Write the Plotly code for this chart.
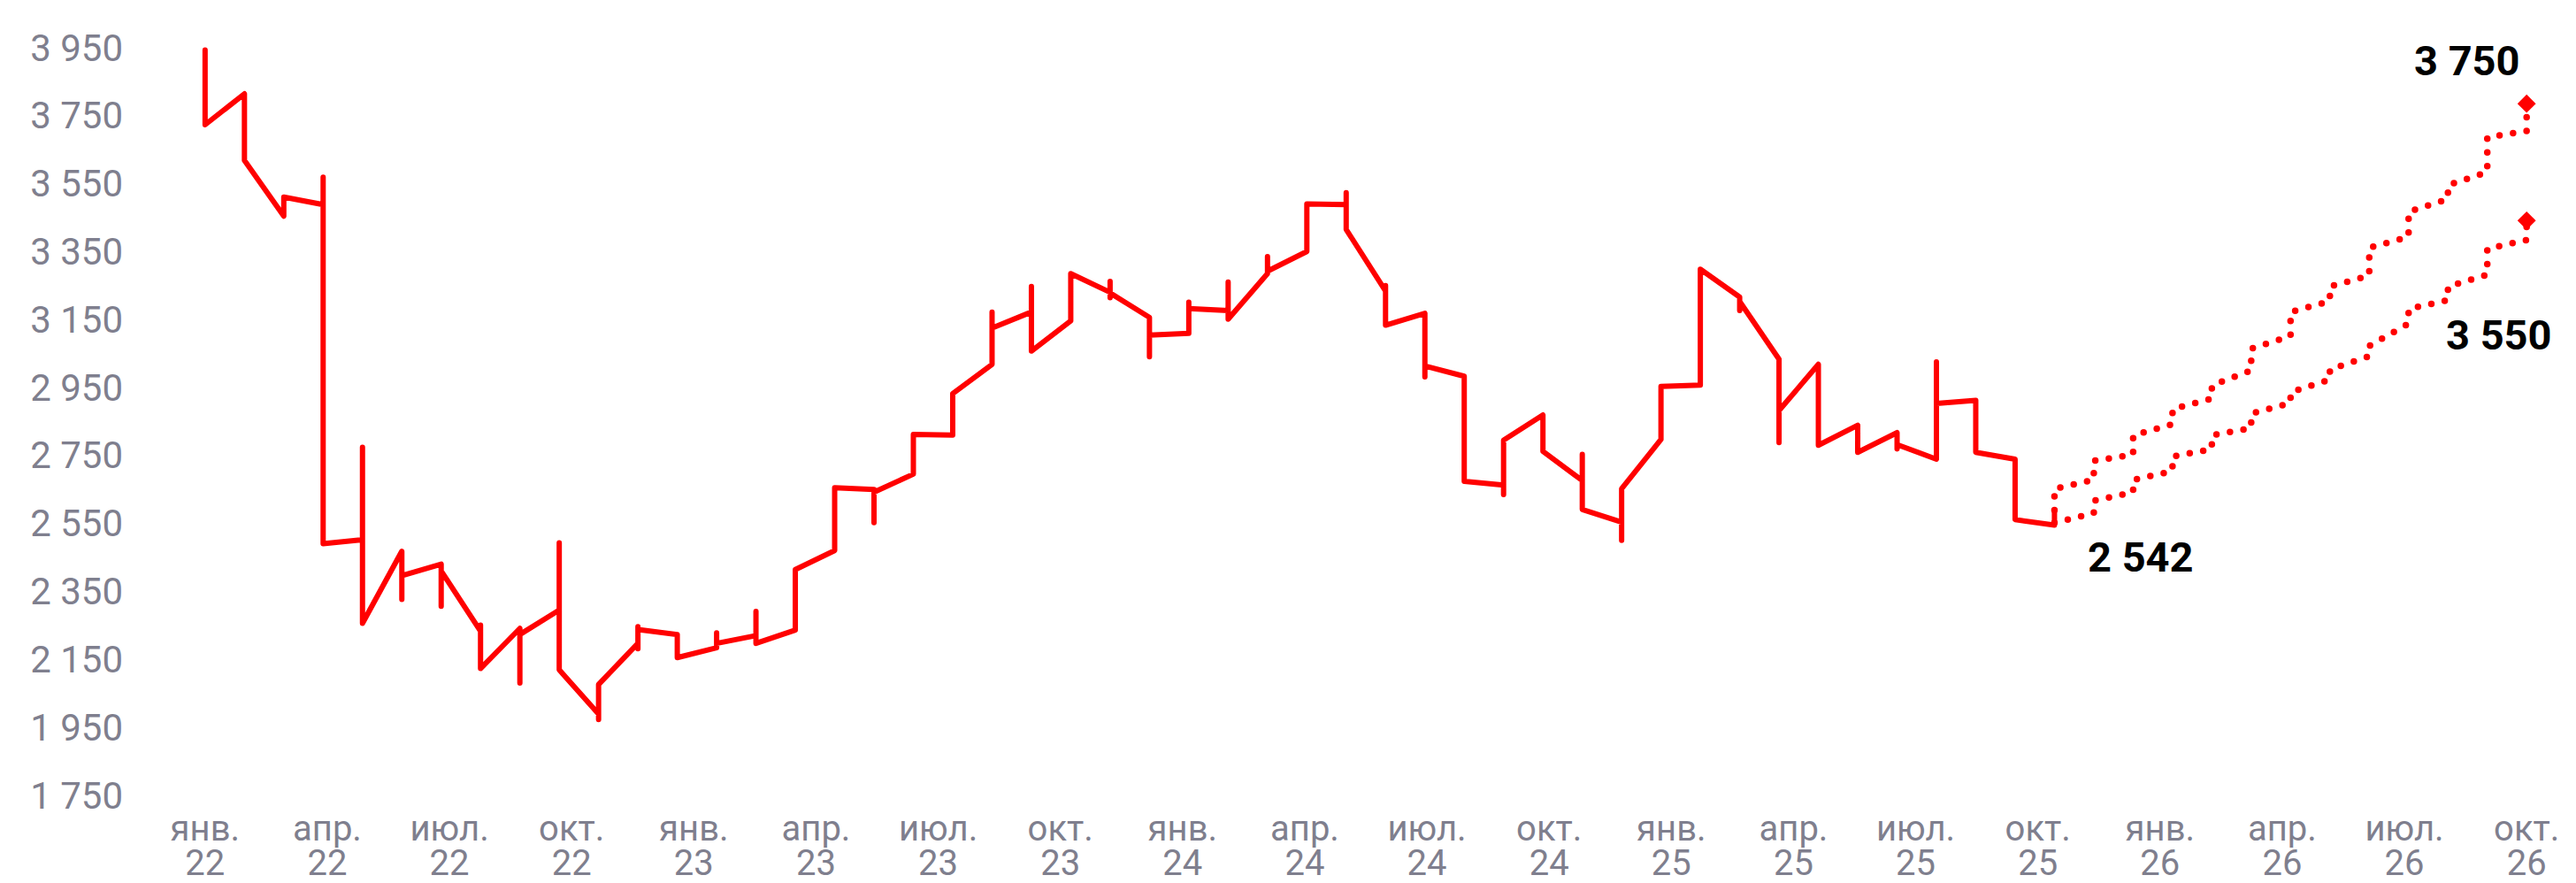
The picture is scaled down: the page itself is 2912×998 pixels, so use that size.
import numpy as np
import plotly.graph_objects as go

# ---- data ----
tick_months = ["янв.", "апр.", "июл.", "окт."]
tick_years = ["22", "23", "24", "25", "26"]

# actual series: one list per month (Jan 22 .. Dec 25), values in drawing order
actual = [
    [3943, 3723], [3814, 3618], [3454, 3510], [3488, 3569, 2490],
    [2502, 2774, 2256], [2468, 2326, 2396], [2430, 2306, 2410], [2233, 2251, 2123],
    [2241, 2080, 2223], [2295, 2493, 2119], [1989, 1973, 2076], [2197, 2181, 2246, 2238],
    [2223, 2155], [2184, 2228, 2197], [2220, 2291, 2197], [2236, 2414],
    [2470, 2655], [2650, 2552, 2642], [2695, 2812], [2810, 2932],
    [3018, 3172, 3125], [3172, 3247, 3057], [3146, 3285], [3230, 3262, 3214, 3228],
    [3156, 3040, 3104], [3109, 3201, 3182], [3176, 3260, 3151], [3285, 3335, 3292],
    [3350, 3490], [3488, 3523, 3415], [3234, 3250, 3133], [3168, 2981, 3013],
    [2983, 2674], [2663, 2635, 2795], [2869, 2762], [2676, 2753, 2591],
    [2554, 2500, 2652], [2797, 2953], [2957, 3298], [3216, 3176, 3203],
    [3033, 2788, 2882], [3018, 2780], [2839, 2759], [2817, 2769, 2782],
    [2739, 3025, 2903], [2912, 2759], [2739, 2561], [2545, 2589],
]
# forecasts: one list per month (Dec 25 .. Dec 26)
forecast_high = [
    [2589, 2652], [2678, 2734], [2752, 2809], [2842, 2886], [2917, 2956],
    [3000, 3064], [3101, 3172], [3204, 3247], [3279, 3361], [3393, 3467],
    [3504, 3545], [3584, 3686], [3705, 3785],
]
forecast_low = [
    [2552], [2580, 2617], [2641, 2678], [2704, 2747], [2768, 2809],
    [2830, 2873], [2904, 2936], [2973, 3003], [3042, 3072], [3138, 3181],
    [3207, 3247], [3282, 3358], [3384, 3441],
]
label_high = "3 750"
label_low = "3 550"
label_last = "2 542"
y_ticks = [1750, 1950, 2150, 2350, 2550, 2750, 2950, 3150, 3350, 3550, 3750, 3950]


def flatten(groups, start):
    xs, ys = [], []
    for i, vals in enumerate(groups):
        for v in vals:
            xs.append(start + i)
            ys.append(v)
    return xs, ys


ax, ay = flatten(actual, 0)
f_start = len(actual) - 1
hx, hy = flatten(forecast_high, f_start)
lx, ly = flatten(forecast_low, f_start)
n_last = f_start + len(forecast_high) - 1

RED = "#ff0000"
GREY = "#7f7f8e"
FONT = "Roboto"

fig = go.Figure()
fig.add_trace(go.Scatter(x=ax, y=ay, mode="lines",
                         line=dict(color=RED, width=6), showlegend=False, hoverinfo="skip"))
for fx, fy in ((hx, hy), (lx, ly)):
    fig.add_trace(go.Scatter(x=fx, y=fy, mode="lines",
                             line=dict(color=RED, width=7.5, dash="0px,15.5px"),
                             showlegend=False, hoverinfo="skip"))
    fig.add_trace(go.Scatter(x=[fx[-1]], y=[fy[-1]], mode="markers",
                             marker=dict(symbol="diamond", size=16, color=RED),
                             showlegend=False, hoverinfo="skip"))

tickvals = np.linspace(0, n_last, 20)
month_text = [m for y in tick_years for m in tick_months]
year_text = [y for y in tick_years for m in tick_months]

xr = [-1.84, 59.58]
fig.update_layout(
    width=2912, height=998,
    margin=dict(l=150, r=30, t=20, b=98, autoexpand=False),
    paper_bgcolor="white", plot_bgcolor="white",
    font=dict(family=FONT, color=GREY, size=40),
    xaxis=dict(range=xr, tickvals=tickvals, ticktext=month_text, showgrid=False,
               zeroline=False, showline=False, ticks="", ticklabelstandoff=9,
               automargin=False,
               tickfont=dict(size=40, color=GREY, family=FONT)),
    xaxis2=dict(range=xr, overlaying="x", side="bottom", anchor="y",
                tickvals=tickvals, ticktext=year_text, showgrid=False,
                zeroline=False, showline=False, ticks="", ticklabelstandoff=48,
                automargin=False,
                tickfont=dict(size=40, color=GREY, family=FONT)),
    yaxis=dict(range=[1747, 4038], tickvals=y_ticks,
               ticktext=[f"{v:,}".replace(",", " ") for v in y_ticks],
               showgrid=False, zeroline=False, showline=False, ticks="",
               ticklabelstandoff=10, automargin=False,
               tickfont=dict(size=42, color=GREY, family=FONT)),
)
# invisible trace to keep the year axis alive
fig.add_trace(go.Scatter(x=[0], y=[None], xaxis="x2", mode="lines", showlegend=False,
                         hoverinfo="skip"))

ann_font = dict(family=FONT, size=47, color="black")
fig.add_annotation(x=57.5, y=3911, xref="x", yref="y", text=f"<b>{label_high}</b>",
                   showarrow=False, font=ann_font)
fig.add_annotation(x=58.3, y=3104, xref="x", yref="y", text=f"<b>{label_low}</b>",
                   showarrow=False, font=ann_font)
fig.add_annotation(x=49.2, y=2450, xref="x", yref="y", text=f"<b>{label_last}</b>",
                   showarrow=False, font=ann_font)

round_caps = (
    "var gd=document.getElementById('{plot_id}');"
    "gd.querySelectorAll('.scatterlayer path.js-line').forEach(function(p){"
    "p.style.strokeLinecap='round';p.style.strokeLinejoin='round';});"
)
fig.write_html("out.html", post_script=round_caps)
